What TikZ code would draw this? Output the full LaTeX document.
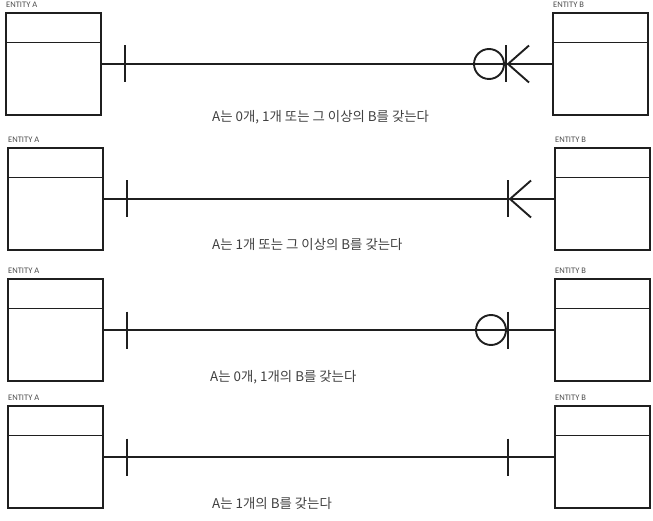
\documentclass[tikz,border=0pt]{standalone}
\usepackage{fontspec}
\setmainfont{Carlito}
\newfontfamily\krfont{Noto Sans CJK KR}
\begin{document}
\begin{tikzpicture}[x=1pt,y=-1pt,
  entity/.style={draw=black!88,line width=2pt,minimum width=95pt,minimum height=102pt,
    anchor=north west,inner sep=0pt,outer sep=0pt},
  elabel/.style={anchor=base west,font=\fontsize{8.5}{9}\selectfont,text=black!70,inner sep=0pt},
  rel/.style={draw=black!88,line width=1.6pt},
  barline/.style={draw=black!88,line width=1.9pt},
  divline/.style={draw=black!88,line width=1.8pt},
  caption/.style={anchor=west,font=\krfont\fontsize{13.4}{16}\selectfont,text=black!75,inner sep=0pt}]
\useasboundingbox (0,0) rectangle (653,521);

% ---------- entities ----------
\node[entity] (a1) at (6,13) {};
\node[entity] (b1) at (553,13) {};
\node[entity] (a2) at (8,148) {};
\node[entity] (b2) at (555,148) {};
\node[entity] (a3) at (8,279) {};
\node[entity] (b3) at (555,279) {};
\node[entity] (a4) at (8,406) {};
\node[entity] (b4) at (555,406) {};

\foreach \e in {a1,b1,a2,b2,a3,b3,a4,b4}{
  \draw[divline] ([yshift=-29.5pt]\e.north west) -- ([yshift=-29.5pt]\e.north east);
}
\foreach \e/\t in {a1/ENTITY A,b1/ENTITY B,a2/ENTITY A,b2/ENTITY B,a3/ENTITY A,b3/ENTITY B,a4/ENTITY A,b4/ENTITY B}{
  \node[elabel] (l\e) at ([yshift=5.5pt]\e.north west) {\t};
}

% ---------- connectors ----------
\draw[rel] (a1) -- (b1);
\draw[rel] (a2) -- (b2);
\draw[rel] (a3) -- (b3);
\draw[rel] (a4) -- (b4);

% mark positions
\foreach \i in {1,2,3,4}{
  \coordinate (am\i) at ([xshift=24pt]a\i.east);
  \coordinate (bm\i) at ([xshift=-47pt]b\i.west);
  \draw[barline] ([yshift=18.5pt]am\i) -- ([yshift=-18.5pt]am\i);
  \draw[barline] ([yshift=18.5pt]bm\i) -- ([yshift=-18.5pt]bm\i);
}
% crow's feet (rows 1 and 2)
\foreach \i in {1,2}{
  \draw[barline] ([xshift=23pt,yshift=18.5pt]bm\i) -- ([xshift=2pt]bm\i) -- ([xshift=23pt,yshift=-18.5pt]bm\i);
}
% circles (rows 1 and 3)
\foreach \i in {1,3}{
  \draw[barline] ([xshift=-17pt]bm\i) circle (15pt);
}

% ---------- captions ----------
\node[caption] (c1) at (212,117) {A는 0개, 1개 또는 그 이상의 B를 갖는다};
\node[caption] (c2) at (212,244) {A는 1개 또는 그 이상의 B를 갖는다};
\node[caption] (c3) at (210,377) {A는 0개, 1개의 B를 갖는다};
\node[caption] (c4) at (212,503) {A는 1개의 B를 갖는다};
\end{tikzpicture}
\end{document}
